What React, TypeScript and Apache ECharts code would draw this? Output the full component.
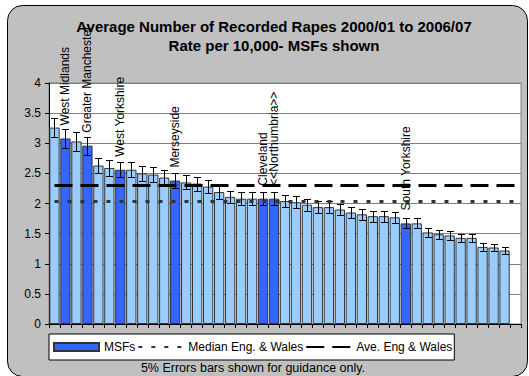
import React, { useEffect, useRef } from "react";
import * as echarts from "echarts";

const categories = [
  "1", "2", "3", "4", "5", "6", "7", "8", "9", "10",
  "11", "12", "13", "14", "15", "16", "17", "18", "19", "20",
  "21", "22", "23", "24", "25", "26", "27", "28", "29", "30",
  "31", "32", "33", "34", "35", "36", "37", "38", "39", "40",
  "41", "42", "43",
];

const rates: (number | null)[] = [
  3.26, 3.08, 3.03, 2.96, 2.63, 2.59, 2.56, 2.56, 2.5, 2.48,
  2.43, 2.38, 2.35, 2.33, 2.28, 2.19, 2.11, 2.08, 2.08, 2.08,
  2.08, 2.04, 2.02, 1.98, 1.94, 1.94, 1.9, 1.85, 1.82, 1.79,
  1.79, 1.77, 1.67, 1.67, 1.52, 1.49, 1.47, 1.43, 1.43, 1.28,
  1.27, 1.22, null,
];

const msfLabels = [
  "", "West Midlands", "", "Greater Manchester", "", "", "West Yorkshire", "", "", "",
  "", "Merseyside", "", "", "", "", "", "", "", "Cleveland",
  "<<Northumbria>>", "", "", "", "", "", "", "", "", "",
  "", "", "South Yorkshire", "", "", "", "", "", "", "",
  "", "", "",
];

const medianEW = 2.03;
const averageEW = 2.3;
const errorShare = 0.05;

const titleLines = ["Average Number of Recorded Rapes 2000/01 to 2006/07", "Rate per 10,000- MSFs shown"];
const footNote = "5% Errors bars shown for guidance only.";
const legendNames = ["MSFs", "Median Eng. & Wales", "Ave. Eng & Wales"];

const FONT = "'Liberation Sans', Arial, sans-serif";
const LIGHT = "#99CCFF";
const DARK = "#3366FF";

export default function App() {
  const ref = useRef<HTMLDivElement>(null);
  useEffect(() => {
    if (!ref.current) return;
    const chart = echarts.init(ref.current, null, { renderer: "svg" });

    const barData = rates.map((v, i) => ({
      value: v,
      itemStyle: { color: msfLabels[i] ? DARK : LIGHT },
    }));
    const errData = rates
      .map((v, i) => (v == null ? null : [i, v * (1 - errorShare), v * (1 + errorShare)]))
      .filter((d) => d != null);

    const last = categories.length - 1;

    chart.setOption({
      animation: false,
      backgroundColor: "transparent",
      textStyle: { fontFamily: FONT },
      graphic: [
        {
          type: "rect",
          z: -100,
          silent: true,
          shape: { x: 7.5, y: 5.5, width: 520, height: 371, r: 15 },
          style: { fill: "#C0C0C0", stroke: "#000", lineWidth: 1 },
        },
        {
          type: "text",
          x: 253,
          y: 368,
          silent: true,
          style: {
            text: footNote,
            font: `12.5px ${FONT}`,
            fill: "#000",
            textAlign: "center",
            textVerticalAlign: "middle",
          },
        },
      ],
      title: {
        text: titleLines.join("\n"),
        left: 274,
        top: 17,
        padding: 0,
        textAlign: "center",
        textStyle: { fontSize: 15, fontWeight: "bold", color: "#000", lineHeight: 19, fontFamily: FONT },
      },
      legend: {
        left: 49,
        top: 334,
        orient: "horizontal",
        backgroundColor: "#fff",
        borderColor: "#000",
        borderWidth: 1,
        borderRadius: 0,
        padding: [7, 2, 7, 4],
        itemGap: 2,
        itemWidth: 45,
        itemHeight: 8,
        selectedMode: false,
        textStyle: { fontSize: 12, color: "#000", fontFamily: FONT },
        data: [
          { name: legendNames[0], icon: "rect" },
          { name: legendNames[1], itemStyle: { opacity: 0 } },
          { name: legendNames[2], itemStyle: { opacity: 0 } },
        ],
      },
      grid: {
        left: 49,
        right: 8,
        top: 83,
        bottom: 52,
        show: true,
        backgroundColor: "#fff",
        borderColor: "#808080",
        borderWidth: 1,
      },
      xAxis: {
        type: "category",
        data: categories,
        boundaryGap: true,
        axisLine: { show: true, lineStyle: { color: "#000", width: 1 } },
        axisTick: { show: true, interval: 0, length: 4, lineStyle: { color: "#000" } },
        axisLabel: { show: false },
        splitLine: { show: false },
      },
      yAxis: {
        type: "value",
        min: 0,
        max: 4,
        interval: 0.5,
        axisLine: { show: true, lineStyle: { color: "#000", width: 1 } },
        axisTick: { show: true, length: 4, lineStyle: { color: "#000" } },
        axisLabel: { fontSize: 12, color: "#000", margin: 8, fontFamily: FONT },
        splitLine: { show: true, lineStyle: { color: "#808080", width: 1 } },
      },
      series: [
        {
          name: legendNames[0],
          type: "bar",
          data: barData,
          barCategoryGap: "6%",
          itemStyle: { color: DARK, borderColor: "#333", borderWidth: 1 },
          label: {
            show: true,
            position: "top",
            distance: 13,
            rotate: 90,
            align: "left",
            verticalAlign: "middle",
            fontSize: 12,
            color: "#000",
            fontFamily: FONT,
            formatter: (p: any) => msfLabels[p.dataIndex] || "",
          },
          z: 2,
        },
        {
          name: "Error",
          type: "custom",
          data: errData,
          z: 4,
          silent: true,
          renderItem: (_params: any, api: any) => {
            const x = api.value(0);
            const lo = api.coord([x, api.value(1)]);
            const hi = api.coord([x, api.value(2)]);
            const cx = Math.round(lo[0]) + 0.5;
            const yl = Math.round(lo[1]) + 0.5;
            const yh = Math.round(hi[1]) + 0.5;
            const hw = 3.5;
            const st = { stroke: "#000", lineWidth: 1 };
            return {
              type: "group",
              children: [
                { type: "line", shape: { x1: cx, y1: yl, x2: cx, y2: yh }, style: st },
                { type: "line", shape: { x1: cx - hw, y1: yh, x2: cx + hw, y2: yh }, style: st },
                { type: "line", shape: { x1: cx - hw, y1: yl, x2: cx + hw, y2: yl }, style: st },
              ],
            };
          },
        },
        {
          name: legendNames[1],
          type: "line",
          data: [],
          symbol: "none",
          z: 5,
          lineStyle: { color: "#333", width: 3, type: [4, 9] },
          itemStyle: { color: "#333" },
          markLine: {
            silent: true,
            symbol: "none",
            label: { show: false },
            lineStyle: { color: "#333", width: 3, type: [4, 9] },
            data: [[{ coord: [0, medianEW] }, { coord: [last, medianEW] }]],
          },
        },
        {
          name: legendNames[2],
          type: "line",
          data: [],
          symbol: "none",
          z: 5,
          lineStyle: { color: "#000", width: 3, type: [18, 8] },
          itemStyle: { color: "#000" },
          markLine: {
            silent: true,
            symbol: "none",
            label: { show: false },
            lineStyle: { color: "#000", width: 3, type: [18, 8] },
            data: [[{ coord: [0, averageEW] }, { coord: [last, averageEW] }]],
          },
        },
      ],
    });
    return () => chart.dispose();
  }, []);

  return (
    <div
      ref={ref}
      style={{ position: "absolute", left: 0, top: 0, width: 529, height: 376 }}
    />
  );
}
